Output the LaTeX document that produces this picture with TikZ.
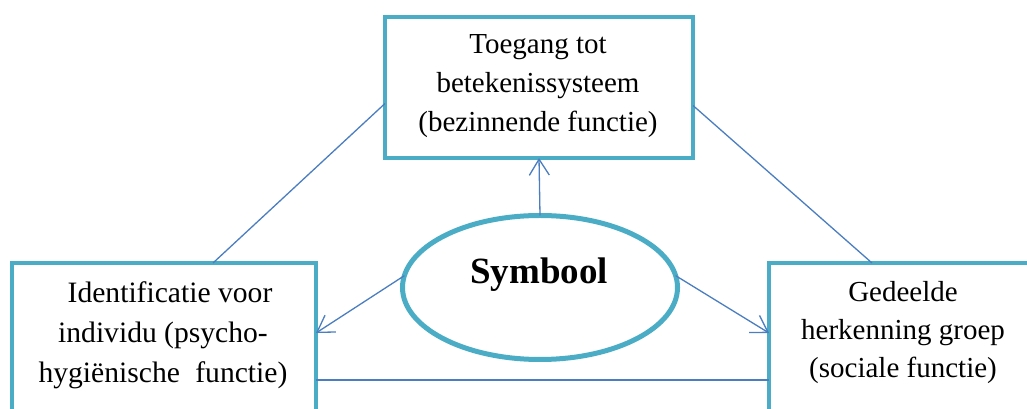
\documentclass[tikz,border=0pt]{standalone}
\usepackage{fontspec}
\setmainfont{Liberation Serif}
\usetikzlibrary{arrows.meta,shapes.geometric}
\definecolor{boxcol}{RGB}{75,172,198}
\definecolor{linecol}{RGB}{74,126,193}
\begin{document}
\begin{tikzpicture}[x=1pt,y=1pt,
  fbox/.style={draw=boxcol,line width=4.5pt,rectangle,inner sep=0pt,outer sep=0pt},
  btext/.style={align=center,inner sep=0pt,anchor=base,font=\fontsize{29}{39}\selectfont},
  conn/.style={draw=linecol,line width=1.3pt},
  arr/.style={conn,-{Straight Barb[length=16pt,width=20pt]}}]
\useasboundingbox (0,0) rectangle (1027,409);
\begin{scope}
\clip (0,0) rectangle (1027,409);
\node[fbox,minimum width=308pt,minimum height=141pt] (tbox) at (539,321.5) {};
\node[fbox,minimum width=304pt,minimum height=176pt] (lbox) at (164,58) {};
\node[fbox,minimum width=271pt,minimum height=176pt] (rbox) at (904.5,58) {};
\node[draw=boxcol,line width=5pt,ellipse,inner sep=0pt,outer sep=0pt,minimum width=275pt,minimum height=144pt] (sym) at (540,121.5) {};
\node[inner sep=0pt,anchor=base,font=\fontsize{37}{44}\selectfont\bfseries] (symtext) at (539,125) {Symbool};
\node[btext] (ttext) at (538,277) {Toegang tot\\betekenissysteem\\(bezinnende functie)};
\node[btext,font=\fontsize{29.6}{40}\selectfont] (ltext) at (163,26) {\hspace*{14pt}Identificatie voor\\individu (psycho-\\hygiënische\hspace{8pt} functie)};
\node[btext,font=\fontsize{29}{38}\selectfont] (rtext) at (903,31) {Gedeelde\\herkenning groep\\(sociale functie)};
\draw[conn] ([yshift=-16pt]tbox.west) -- ([xshift=201pt]lbox.north west);
\draw[conn] ([yshift=-18pt]tbox.east) -- ([xshift=103pt]rbox.north west);
\draw[arr] (sym.north) -- (tbox.south);
\draw[arr] (sym.175) -- ([yshift=-70pt]lbox.north east);
\draw[arr] (sym.5) -- ([yshift=-70pt]rbox.north west);
\draw[conn] ([yshift=-117pt]lbox.north east) -- ([yshift=-117pt]rbox.north west);
\end{scope}
\end{tikzpicture}
\end{document}
